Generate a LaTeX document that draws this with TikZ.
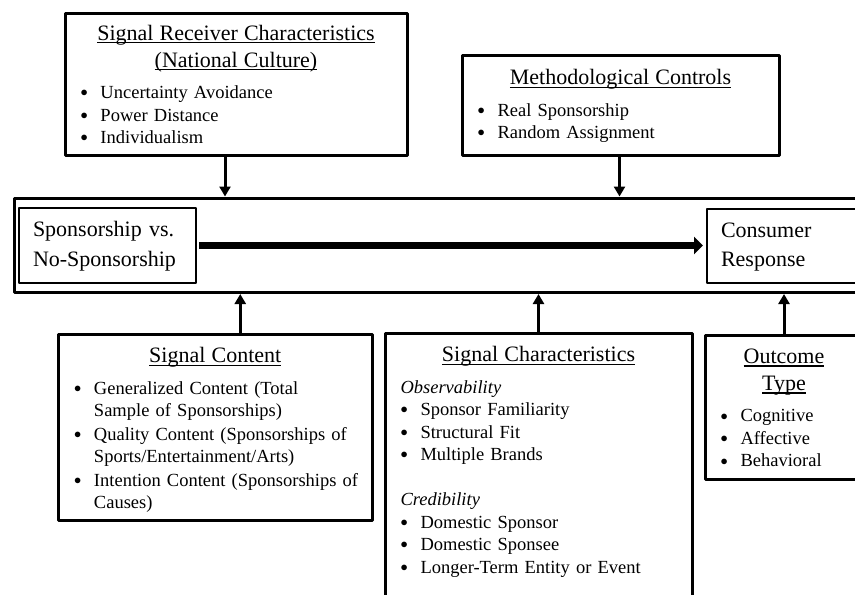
\documentclass[tikz,border=0pt]{standalone}
\usepackage{fontspec}
\setmainfont{Liberation Serif}
\usetikzlibrary{arrows.meta,calc}
\newsavebox{\ulsave}
\newcommand{\ulin}[1]{\leavevmode\sbox{\ulsave}{#1}\rlap{\rule[-3.2pt]{\wd\ulsave}{1.2pt}}\usebox{\ulsave}}
\newcommand{\bodyfont}{\fontsize{18.5pt}{22.5pt}\selectfont}
\newcommand{\varfont}{\fontsize{22pt}{29.3pt}\selectfont}
\newcommand{\btitle}[1]{{\centering\fontsize{22pt}{27pt}\selectfont#1\par}\vspace{9pt}}
\newcommand{\bitem}[1]{\par\noindent\makebox[20pt][l]{\raisebox{1.8pt}{\fontsize{14pt}{0pt}\selectfont$\bullet$}}\begin{tabular}[t]{@{}l@{}}#1\end{tabular}}
\begin{document}
\begin{tikzpicture}[x=1pt,y=1pt,>={Triangle[length=10pt,width=11pt]},line join=round,
	sigbox/.style={draw,line width=3pt,outer sep=0pt,inner xsep=15.5pt,inner ysep=0pt,anchor=north west,align=left,font=\bodyfont},
	varbox/.style={draw,line width=1.3pt,outer sep=0pt,inner xsep=14pt,inner ysep=0pt,anchor=north west,align=left,font=\varfont},
	link/.style={->,line width=3pt,shorten >=1.5pt}]
	\useasboundingbox (0,0) rectangle (855,-595);
	\clip (0,0) rectangle (855,-595);
	% moderators above
	\node[sigbox,text width=311pt,text height=26.5pt,text depth=115pt] (recv) at (65,-13.5)
	{\btitle{\ulin{Signal Receiver Characteristics}\par\ulin{(National Culture)}}
		\bitem{Uncertainty Avoidance}
		\bitem{Power Distance}
		\bitem{Individualism}};
	\node[sigbox,text width=286pt,text height=29.5pt,text depth=70.5pt] (meth) at (462,-55)
	{\btitle{\ulin{Methodological Controls}}
		\bitem{Real Sponsorship}
		\bitem{Random Assignment}};
	% main relation
	\node[draw,line width=3pt,outer sep=0pt,minimum width=870pt,minimum height=94.5pt,anchor=north west] (main) at (14,-198) {};
	\node[varbox,text width=149pt,text height=28.7pt,text depth=46.3pt] (spons) at (19,-208) {Sponsorship vs.\\No-Sponsorship};
	\node[varbox,text width=142pt,text height=28pt,text depth=46pt] (cons) at (707,-209) {Consumer\\Response};
	\draw[line width=7pt,-{Triangle[length=9pt,width=17pt]}] ([xshift=3pt]spons.east) -- ([xshift=-4pt]spons.east -| cons.west);
	% moderators below
	\node[sigbox,text width=282.5pt,text height=28.5pt,text depth=158.2pt] (scont) at (58.5,-334)
	{\btitle{\ulin{Signal Content}}
		\bitem{Generalized Content (Total\\Sample of Sponsorships)}
		\bitem{Quality Content (Sponsorships of\\Sports/Entertainment/Arts)}
		\bitem{Intention Content (Sponsorships of\\Causes)}};
	\node[sigbox,text width=276pt,text height=28.7pt,text depth=248pt] (schar) at (385,-333)
	{\btitle{\ulin{Signal Characteristics}}
		\noindent\textit{Observability}
		\bitem{Sponsor Familiarity}
		\bitem{Structural Fit}
		\bitem{Multiple Brands}
		\par\vspace{22.5pt}\noindent\textit{Credibility}
		\bitem{Domestic Sponsor}
		\bitem{Domestic Sponsee}
		\bitem{Longer-Term Entity or Event}};
	\node[sigbox,text width=127pt,text height=28.3pt,text depth=116pt] (outc) at (705,-335)
	{\btitle{\ulin{Outcome}\par\ulin{Type}}
		\bitem{Cognitive}
		\bitem{Affective}
		\bitem{Behavioral}};
	\foreach \b/\s in {recv/-11,meth/-1}
	\draw[link] ([xshift=\s]\b.south) -- ([xshift=\s]\b.south |- main.north);
	\foreach \b/\s in {scont/25,schar/0,outc/0}
	\draw[link] ([xshift=\s]\b.north) -- ([xshift=\s]\b.north |- main.south);
\end{tikzpicture}
\end{document}
